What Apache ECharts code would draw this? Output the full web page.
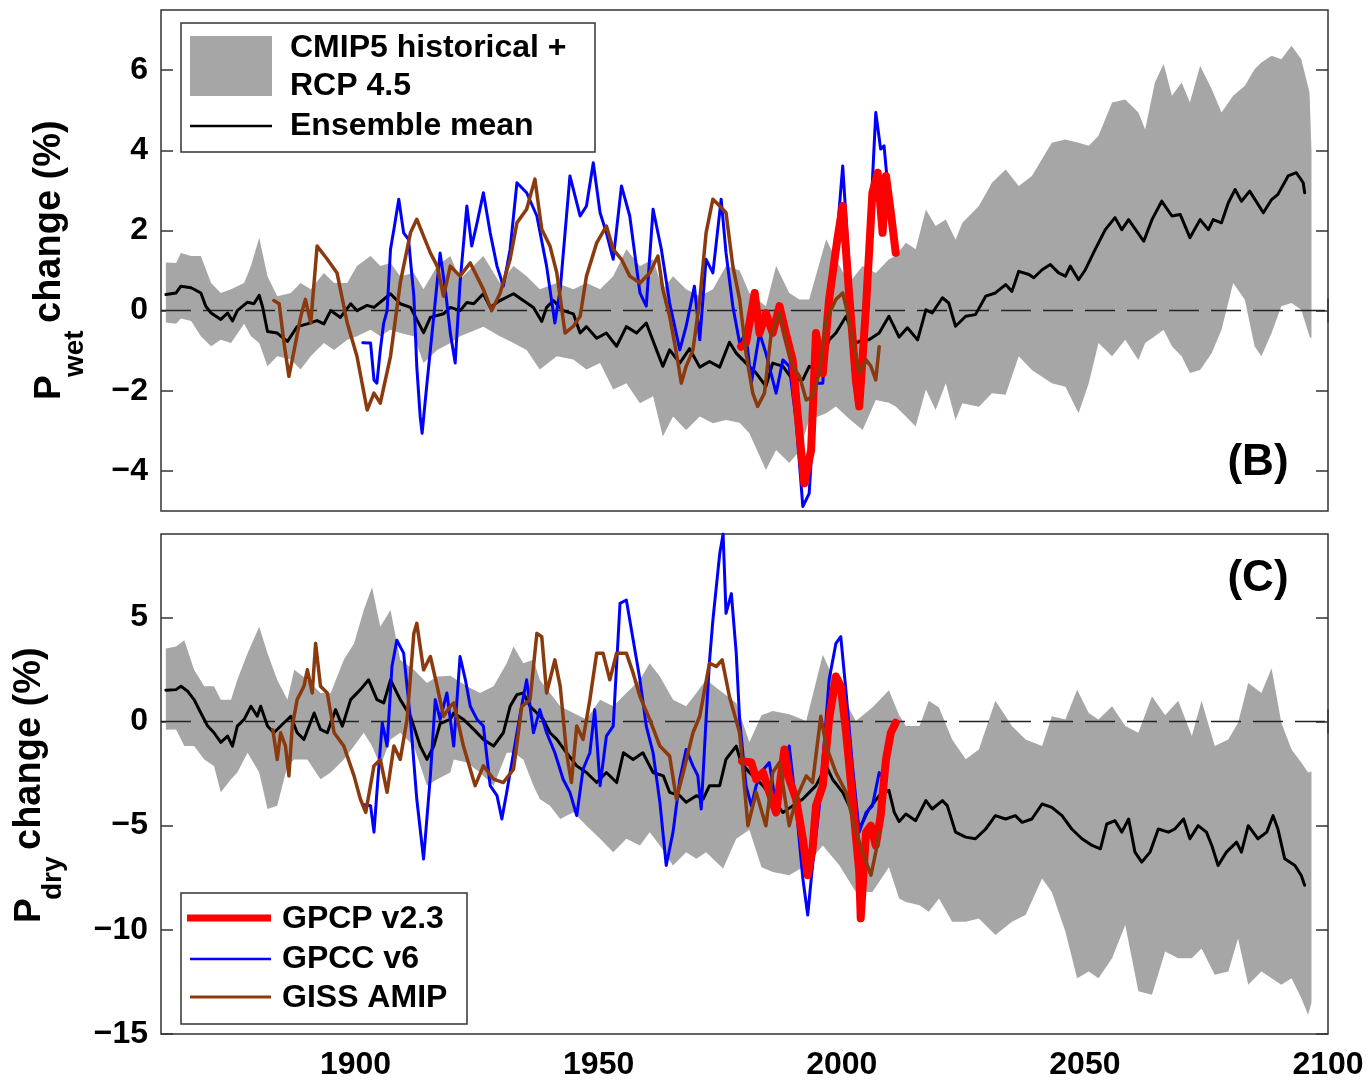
<!DOCTYPE html>
<html>
<head>
<meta charset="utf-8">
<script src="https://cdn.jsdelivr.net/npm/echarts@6/dist/echarts.min.js"></script>
<style>
html,body{margin:0;padding:0;background:#fff;}
#chart{width:1368px;height:1081px;}
</style>
</head>
<body>
<div id="chart"></div>
<script>
// ---------- tick labels ----------
const xTicks = [1900, 1950, 2000, 2050, 2100];
const wetTicks = [-4, -2, 0, 2, 4, 6];
const dryTicks = [-15, -10, -5, 0, 5];
const zeroLine = [[1860, 0], [2100, 0]];

// ---------- panel B : P_wet change (%) ----------
const wetMean = [[1861,0.4],[1863.1,0.44],[1864.1,0.61],[1866.2,0.57],[1868.2,0.44],[1869.2,0.11],[1870.3,-0.06],[1872.3,-0.22],[1873.7,-0.06],[1874.7,-0.26],[1875.7,0.0],[1877.8,0.21],[1879.1,0.17],[1880.2,0.38],[1880.9,0.09],[1881.9,-0.52],[1883.9,-0.56],[1886.0,-0.77],[1888.0,-0.4],[1890.1,-0.33],[1892.1,-0.25],[1893.5,-0.33],[1894.9,0],[1896.9,-0.17],[1899.0,0.17],[1900.3,0],[1902.4,0.13],[1903.8,0.08],[1907.2,0.42],[1909.2,0.17],[1911.3,0.08],[1914.0,-0.55],[1915.4,-0.17],[1918.1,-0.08],[1919.5,0.08],[1921.5,0],[1922.9,0.2],[1924.3,0.17],[1926.3,0.42],[1927.7,0.08],[1929.7,0.25],[1932.5,0.42],[1934.5,0.25],[1936.6,0.08],[1938.3,-0.27],[1939.3,0.08],[1940.7,0.25],[1942.7,0],[1944.8,-0.08],[1946.2,-0.56],[1947.5,-0.4],[1949.6,-0.69],[1951.6,-0.56],[1953.7,-0.89],[1955.7,-0.4],[1957.8,-0.56],[1959.8,-0.31],[1961.9,-0.98],[1963.2,-1.39],[1964.6,-0.98],[1966.7,-1.31],[1968.7,-0.95],[1970.8,-1.41],[1972.8,-1.27],[1974.9,-1.41],[1976.9,-0.79],[1978.3,-1.06],[1980.3,-1.31],[1982.4,-1.56],[1984.4,-1.89],[1985.8,-1.31],[1987.9,-1.39],[1989.9,-1.72],[1992.0,-1.72],[1993.3,-1.39],[1995.4,-1.47],[1997.4,-0.73],[1998.8,-0.56],[2000.9,-0.14],[2002.9,-0.81],[2004.3,-0.73],[2005.6,-0.73],[2007.7,-0.56],[2009.7,-0.14],[2011.8,-0.66],[2013.5,-0.43],[2015.6,-0.73],[2017.3,0.02],[2018.6,-0.06],[2020.7,0.32],[2022.0,0.19],[2023.4,-0.39],[2025.5,-0.14],[2027.5,-0.1],[2029.6,0.36],[2031.6,0.44],[2033.7,0.65],[2035.0,0.48],[2036.4,0.98],[2038.5,0.9],[2039.5,0.82],[2041.2,1.02],[2042.9,1.15],[2044.6,0.94],[2046.0,0.86],[2047.0,1.11],[2048.7,0.77],[2050.1,1.02],[2052.1,1.52],[2054.2,2.02],[2056.2,2.32],[2057.6,2.02],[2059.0,2.27],[2062.1,1.73],[2063.8,2.27],[2065.8,2.73],[2067.9,2.36],[2069.6,2.4],[2071.6,1.82],[2073.7,2.27],[2075.4,2.02],[2076.4,2.27],[2078.1,2.19],[2079.5,2.69],[2080.9,3.02],[2082.2,2.73],[2083.9,2.98],[2086.7,2.44],[2088.4,2.77],[2089.7,2.9],[2091.8,3.36],[2093.5,3.44],[2094.9,3.19],[2095.2,2.94]];
const wetUpper = [[1861,1.2],[1863.1,1.19],[1864.1,1.44],[1866.2,1.36],[1868.2,1.36],[1870.3,0.69],[1872.3,0.44],[1874.4,0.53],[1877.1,0.69],[1878.5,1.11],[1880.2,1.82],[1881.9,0.86],[1883.9,0.36],[1886.7,0.44],[1888.7,0.69],[1890.8,0.53],[1893.5,0.94],[1895.6,0.69],[1898.3,0.69],[1900.3,1.11],[1903.1,1.36],[1905.1,1.11],[1907.2,1.19],[1909.2,0.86],[1912.0,0.94],[1914.0,0.53],[1916.8,1.11],[1919.5,1.36],[1921.5,0.78],[1926.3,1.36],[1929.7,0.69],[1932.5,1.11],[1935.2,0.86],[1937.9,0.53],[1941.4,0.69],[1944.8,0.53],[1947.5,0.69],[1950.3,0.53],[1953.0,0.86],[1955.7,1.53],[1958.5,1.11],[1961.2,1.28],[1963.2,0.53],[1965.3,0.86],[1968.0,0.53],[1970.8,0.36],[1973.5,0.53],[1976.2,1.11],[1979.0,1.0],[1981.0,0.44],[1984.4,0.11],[1986.5,1.11],[1989.2,0.44],[1991.3,0.28],[1993.3,0.28],[1996.8,1.78],[1998.8,1.28],[2001.5,0.69],[2004.3,1.11],[2007.0,0.94],[2009.7,1.28],[2011.1,1.36],[2013.2,1.69],[2015.2,1.53],[2017.3,2.52],[2019.3,2.11],[2021.4,2.27],[2023.4,1.77],[2024.8,2.19],[2028.2,2.61],[2030.9,3.19],[2033.7,3.52],[2036.4,3.11],[2039.1,3.36],[2043.2,4.19],[2046.0,4.27],[2048.7,4.19],[2050.8,4.11],[2052.8,4.36],[2055.6,5.19],[2058.3,5.27],[2061.0,4.94],[2062.4,4.52],[2064.4,5.69],[2066.2,6.15],[2067.9,5.36],[2069.9,5.69],[2071.6,5.19],[2073.7,6.11],[2076.1,5.52],[2078.1,4.94],[2080.5,5.36],[2082.9,5.61],[2084.9,6.02],[2086.3,6.19],[2088.4,6.36],[2090.4,6.27],[2092.5,6.61],[2094.5,6.27],[2096.2,5.44],[2096.6,4.0]];
const wetLower = [[1861,-0.3],[1863.1,-0.33],[1864.1,-0.2],[1866.2,-0.26],[1868.2,-0.64],[1870.3,-0.89],[1872.3,-0.73],[1874.4,-0.81],[1877.1,-0.33],[1878.5,-0.64],[1880.2,-0.81],[1881.9,-1.39],[1883.9,-1.14],[1886.7,-1.22],[1888.7,-1.47],[1890.8,-1.14],[1893.5,-0.81],[1895.6,-0.98],[1898.3,-0.73],[1900.3,-0.64],[1903.1,-0.48],[1905.1,-0.64],[1907.2,-0.48],[1909.2,-0.56],[1912.0,-0.64],[1914.0,-1.31],[1916.8,-0.98],[1919.5,-0.81],[1921.5,-0.64],[1926.3,-0.4],[1929.7,-0.64],[1932.5,-0.81],[1935.2,-0.98],[1937.9,-1.47],[1941.4,-1.14],[1944.8,-1.22],[1947.5,-1.47],[1950.3,-1.31],[1953.0,-1.97],[1955.7,-1.81],[1958.5,-2.31],[1961.2,-2.14],[1963.2,-3.14],[1965.3,-2.64],[1968.0,-2.98],[1970.8,-2.64],[1973.5,-2.81],[1976.2,-2.73],[1979.0,-2.8],[1981.0,-3.06],[1984.4,-3.98],[1986.5,-3.48],[1989.2,-3.8],[1991.3,-3.5],[1993.3,-2.73],[1996.8,-2.56],[1998.8,-2.39],[2001.5,-2.7],[2004.3,-2.98],[2007.0,-2.23],[2009.7,-2.3],[2011.1,-2.39],[2013.2,-2.64],[2015.2,-2.89],[2017.3,-1.97],[2019.3,-2.48],[2021.4,-1.81],[2023.4,-2.73],[2024.8,-2.31],[2028.2,-2.4],[2030.9,-2.06],[2033.7,-2.1],[2036.4,-1.14],[2039.1,-1.48],[2043.2,-1.81],[2046.0,-1.9],[2048.7,-2.56],[2050.8,-1.81],[2052.8,-0.81],[2055.6,-1.14],[2058.3,-0.73],[2061.0,-1.23],[2062.4,-0.81],[2064.4,-0.64],[2066.2,-0.48],[2067.9,-0.89],[2069.9,-1.14],[2071.6,-1.56],[2073.7,-1.48],[2076.1,-1.06],[2078.1,-0.48],[2080.5,0.69],[2082.9,0.27],[2084.9,-0.89],[2086.3,-1.14],[2088.4,-0.56],[2090.4,0.11],[2092.5,0.19],[2094.5,0.02],[2096.2,-0.64],[2096.6,-0.7]];
const wetGPCC = [[1901.5,-0.8],[1903.1,-0.81],[1903.8,-1.73],[1904.4,-1.81],[1905.1,-0.98],[1905.8,-0.31],[1906.5,0],[1907.2,1.53],[1907.9,2.03],[1908.9,2.78],[1909.9,1.94],[1910.9,1.78],[1912.0,0.36],[1912.6,-1.39],[1913.3,-2.64],[1913.7,-3.06],[1914.7,-1.81],[1916.1,-0.14],[1917.4,1.44],[1918.6,0.4],[1919.5,-0.56],[1920.5,-1.31],[1921.5,0.69],[1922.9,2.61],[1923.9,1.61],[1925.0,2.19],[1926.3,2.94],[1927.7,1.94],[1929.1,1.11],[1930.4,0.61],[1931.8,1.53],[1933.2,3.19],[1935.2,2.94],[1937.3,2.36],[1939.3,1.11],[1941.0,-0.31],[1942.1,0.53],[1944.1,3.36],[1946.2,2.36],[1947.5,2.61],[1948.9,3.69],[1950.3,2.44],[1951.6,1.94],[1953.0,1.28],[1954.7,3.11],[1956.4,2.36],[1958.5,0.44],[1959.8,0.11],[1961.2,2.53],[1962.9,1.53],[1964.6,0.19],[1966.7,-0.98],[1968.0,-0.39],[1969.7,0.61],[1970.8,-0.73],[1972.1,1.28],[1973.5,0.94],[1975.2,2.78],[1976.2,1.44],[1977.6,0.11],[1979.0,-0.81],[1980.3,-0.56],[1981.4,-1.81],[1983.1,-0.56],[1984.4,-1.06],[1986.5,-2.06],[1987.9,-1.23],[1989.2,-1.39],[1990.6,-2.73],[1992.0,-4.89],[1993.3,-4.56],[1994.7,-1.81],[1996.1,-1.81],[1997.4,0.61],[1998.8,1.53],[2000.2,3.61],[2001.5,1.11],[2002.9,-1.39],[2003.9,-2.06],[2005.6,1.53],[2007.0,4.94],[2008.0,4.03],[2008.7,4.11],[2009.4,3.19]];
const wetGPCP = [[1979.3,-0.9],[1980.3,-0.81],[1982.1,0.44],[1983.1,-0.56],[1984.4,-0.06],[1985.8,-0.56],[1987.2,0.11],[1988.5,-0.56],[1989.9,-1.23],[1991.3,-3.06],[1992.3,-4.31],[1993.7,-3.48],[1994.7,-0.56],[1996.1,-1.56],[1997.4,0.28],[1999.1,1.78],[2000.2,2.61],[2001.5,0.44],[2002.9,-1.73],[2003.6,-2.39],[2005.0,0.11],[2006.3,2.94],[2007.4,3.44],[2008.4,1.94],[2009.1,3.36],[2010.1,2.44],[2011.1,1.44]];
const wetGISS = [[1883.2,0.25],[1884.3,0.17],[1885.3,-0.81],[1886.3,-1.64],[1887.4,-0.98],[1888.7,-0.17],[1889.7,0.28],[1890.8,-0.31],[1892.1,1.61],[1894.2,1.28],[1896.2,0.94],[1898.3,-0.31],[1900.3,-1.14],[1902.4,-2.48],[1903.8,-2.06],[1905.1,-2.31],[1907.2,-1.14],[1909.2,0.69],[1911.3,1.94],[1912.6,2.28],[1914.0,1.86],[1915.4,1.44],[1916.8,1.11],[1918.1,0.36],[1919.5,1.11],[1921.5,0.86],[1923.6,1.19],[1926.3,0.53],[1928.0,0],[1929.7,0.42],[1931.8,1.28],[1933.2,2.19],[1935.2,2.53],[1936.9,3.28],[1938.3,2.03],[1940.0,1.61],[1941.4,0.94],[1943.1,-0.56],[1944.8,-0.39],[1946.2,-0.14],[1947.5,0.86],[1949.6,1.69],[1951.6,2.11],[1953.0,1.53],[1954.7,1.28],[1956.4,0.86],[1958.5,0.69],[1960.5,0.94],[1962.2,1.36],[1963.2,0.53],[1964.6,-0.14],[1966.0,-1.06],[1967.0,-1.81],[1968.0,-1.39],[1969.4,-0.98],[1970.8,0.27],[1972.1,1.94],[1973.5,2.78],[1974.9,2.61],[1976.2,2.44],[1977.6,1.11],[1979.0,0.28],[1980.3,-1.06],[1981.7,-2.06],[1982.7,-2.39],[1984.1,-2.06],[1985.5,-0.56],[1987.2,-0.06],[1988.5,-0.73],[1989.9,-1.39],[1991.3,-1.64],[1992.7,-2.23],[1994.0,-2.14],[1995.4,-1.56],[1996.8,-0.23],[1998.8,0.28],[2000.2,0.44],[2001.2,-0.06],[2002.2,-0.73],[2003.6,-1.56],[2005.0,-1.23],[2006.0,-1.39],[2007.0,-1.73],[2007.7,-0.9]];

// ---------- panel C : P_dry change (%) ----------
const dryMean = [[1861,1.5],[1863.1,1.53],[1864.1,1.69],[1865.5,1.45],[1866.8,1.05],[1868.2,0.41],[1869.6,-0.22],[1870.9,-0.54],[1872.3,-1.0],[1873.7,-0.7],[1874.7,-1.18],[1875.7,-0.22],[1877.1,0.1],[1878.5,0.73],[1879.8,0.25],[1880.5,0.73],[1881.9,-0.22],[1883.2,-0.54],[1885.3,-0.06],[1886.7,0.25],[1888.0,-0.54],[1889.4,-0.86],[1891.5,0.41],[1892.8,-0.38],[1894.2,-0.54],[1895.9,0.57],[1897.3,-0.22],[1899.0,1.05],[1901.0,1.53],[1902.7,2.0],[1904.4,1.05],[1905.8,0.89],[1907.2,2.0],[1909.2,1.05],[1911.3,0.25],[1913.3,-1.18],[1914.7,-1.82],[1916.1,-1.18],[1917.4,-0.1],[1919.5,0.1],[1920.2,0.41],[1922.2,0.1],[1924.3,-0.38],[1926.3,-0.86],[1928.4,-1.18],[1930.4,-0.54],[1931.8,0.73],[1933.2,1.29],[1934.5,1.37],[1935.9,0.73],[1937.3,0.41],[1938.6,0.1],[1940.0,-0.54],[1941.4,-0.86],[1943.4,-1.5],[1945.5,-2.13],[1947.5,-2.45],[1949.6,-2.93],[1951.6,-2.45],[1953.7,-2.93],[1955.1,-1.5],[1957.1,-1.82],[1959.1,-1.5],[1961.2,-2.45],[1963.3,-2.61],[1964.6,-3.4],[1966.7,-3.56],[1968.0,-3.88],[1970.1,-3.56],[1971.5,-3.72],[1972.8,-3.08],[1974.9,-3.08],[1976.2,-1.81],[1978.3,-1.18],[1979.3,-1.97],[1981.0,-2.45],[1983.8,-3.08],[1985.8,-3.72],[1987.9,-4.37],[1989.9,-4.05],[1992.0,-3.72],[1994.7,-3.08],[1996.8,-2.13],[1998.1,-2.77],[2000.2,-3.4],[2002.2,-4.37],[2003.6,-5.16],[2005.6,-4.21],[2007.7,-3.56],[2009.7,-3.3],[2010.8,-4.36],[2011.8,-4.8],[2013.2,-4.44],[2015.2,-4.76],[2017.3,-3.8],[2018.6,-4.2],[2020.7,-3.8],[2021.7,-4.04],[2023.4,-5.31],[2025.5,-5.55],[2027.5,-5.63],[2029.6,-5.16],[2031.6,-4.52],[2033.7,-4.68],[2035.7,-4.52],[2037.1,-4.84],[2039.1,-4.68],[2041.2,-3.96],[2043.2,-4.12],[2045.3,-4.52],[2047.3,-5.16],[2049.4,-5.63],[2051.5,-5.95],[2053.2,-6.11],[2054.5,-4.92],[2056.2,-4.76],[2057.6,-5.31],[2059.0,-4.68],[2060.3,-6.27],[2061.7,-6.75],[2063.4,-6.27],[2065.1,-5.16],[2067.2,-5.31],[2068.5,-5.16],[2070.3,-4.68],[2071.6,-5.63],[2073.3,-5.0],[2075.0,-5.31],[2076.1,-5.95],[2077.4,-6.91],[2079.1,-6.27],[2081.2,-5.79],[2082.2,-6.27],[2083.6,-5.0],[2085.6,-5.63],[2087.4,-5.31],[2088.7,-4.52],[2089.7,-5.16],[2091.1,-6.59],[2093.2,-6.91],[2094.5,-7.39],[2095.2,-7.86]];
const dryUpper = [[1861,3.5],[1863.1,3.6],[1864.8,3.9],[1866.8,2.48],[1868.9,1.69],[1870.9,1.69],[1872.3,1.05],[1874.4,1.05],[1875.7,2.0],[1877.8,3.28],[1880.2,4.55],[1881.9,3.28],[1883.9,2.0],[1886.0,1.05],[1887.4,2.48],[1890.1,2.0],[1892.8,1.37],[1894.9,1.37],[1897.6,2.96],[1899.7,3.75],[1901.7,5.35],[1903.4,6.45],[1905.1,4.55],[1907.2,5.35],[1909.2,2.96],[1912.0,2.48],[1914.7,1.85],[1916.8,2.16],[1919.5,2.2],[1922.9,1.69],[1925.6,1.37],[1928.4,1.69],[1931.1,2.8],[1932.5,3.6],[1934.5,2.8],[1936.6,2.96],[1937.9,2.0],[1940.0,1.37],[1942.1,0.73],[1944.8,0.41],[1947.5,0.1],[1950.3,1.05],[1953.0,0.73],[1955.7,1.37],[1958.5,2.0],[1960.5,2.8],[1962.6,2.16],[1965.3,1.05],[1968.0,0.73],[1970.1,1.37],[1972.1,2.0],[1975.6,1.37],[1978.3,0.89],[1981.0,-1.0],[1983.5,0.3],[1985.8,0.51],[1989.2,0.35],[1992.7,0.03],[1996.1,3.2],[1999.5,1.46],[2002.9,0.03],[2006.3,0.67],[2009.7,1.5],[2011.8,0.3],[2013.2,-0.22],[2016.0,-0.22],[2017.9,1.0],[2020.0,0.67],[2022.7,-0.86],[2025.5,-1.81],[2028.2,-1.34],[2031.6,1.0],[2035.0,-0.22],[2037.8,-0.86],[2041.2,-1.18],[2043.2,0.25],[2046.0,0.1],[2048.4,1.53],[2050.8,0.41],[2052.8,0.1],[2055.6,0.73],[2058.3,-0.22],[2061.0,-0.54],[2063.8,1.21],[2066.5,0.3],[2069.2,1.0],[2072.0,-0.7],[2074.0,1.0],[2076.7,-1.18],[2079.5,-0.86],[2081.5,-0.06],[2083.6,1.85],[2086.3,1.37],[2088.4,2.56],[2090.4,-0.06],[2092.5,-1.34],[2094.5,-1.97],[2095.9,-2.45],[2096.6,-2.4]];
const dryLower = [[1861,-0.4],[1863.1,-0.38],[1864.8,-1.18],[1866.8,-1.18],[1868.9,-1.82],[1870.9,-2.13],[1872.3,-3.4],[1874.4,-2.77],[1875.7,-2.45],[1877.8,-1.5],[1880.2,-2.45],[1881.9,-4.2],[1883.9,-4.04],[1886.0,-2.13],[1887.4,-1.82],[1890.1,-1.82],[1892.8,-2.77],[1894.9,-2.45],[1897.6,-1.82],[1899.7,-1.18],[1901.7,-0.54],[1903.4,-1.18],[1905.1,-2.13],[1907.2,-0.86],[1909.2,-0.54],[1912.0,-1.18],[1914.7,-3.08],[1916.8,-2.77],[1919.5,-2.45],[1920.2,-1.82],[1922.9,-1.97],[1925.6,-2.45],[1928.4,-3.08],[1931.1,-1.5],[1932.5,-1.5],[1934.5,-1.82],[1936.6,-3.08],[1937.9,-3.72],[1940.0,-4.04],[1942.1,-4.68],[1944.8,-4.36],[1947.5,-5.0],[1950.3,-5.63],[1953.0,-6.27],[1955.7,-5.63],[1958.5,-5.95],[1960.5,-5.31],[1962.6,-5.95],[1965.3,-6.91],[1968.0,-6.27],[1970.1,-6.59],[1972.1,-6.27],[1975.6,-7.06],[1978.3,-5.63],[1981.0,-5.2],[1983.5,-7.0],[1985.8,-7.22],[1989.2,-7.38],[1992.7,-6.9],[1996.1,-5.95],[1999.5,-6.9],[2002.9,-8.18],[2006.3,-8.18],[2009.7,-7.0],[2011.8,-8.5],[2013.2,-8.66],[2016.0,-8.82],[2017.9,-9.13],[2020.0,-8.5],[2022.7,-9.61],[2025.5,-9.61],[2028.2,-9.45],[2031.6,-10.25],[2035.0,-9.61],[2037.8,-9.29],[2041.2,-7.54],[2043.2,-8.18],[2046.0,-10.09],[2048.4,-12.32],[2050.8,-12.0],[2052.8,-12.32],[2055.6,-11.36],[2058.3,-9.77],[2061.0,-12.95],[2063.8,-13.11],[2066.5,-11.04],[2069.2,-11.36],[2072.0,-11.36],[2074.0,-10.9],[2076.7,-12.16],[2079.5,-12.0],[2081.5,-10.41],[2083.6,-12.64],[2086.3,-12.0],[2088.4,-12.32],[2090.4,-12.64],[2092.5,-12.32],[2094.5,-13.27],[2095.9,-14.07],[2096.6,-13.5]];
const dryGPCC = [[1901.8,-4.0],[1903.1,-4.04],[1903.8,-5.31],[1904.4,-3.4],[1905.5,-0.06],[1906.5,-1.18],[1907.5,2.64],[1908.5,3.9],[1909.9,3.28],[1911.3,0.1],[1912.6,-3.72],[1914.0,-6.6],[1915.4,-2.61],[1916.4,1.05],[1917.4,0.1],[1918.8,1.37],[1920.2,-1.18],[1921.5,3.12],[1922.6,2.0],[1923.6,0.73],[1925.0,0.1],[1926.3,-0.22],[1927.7,-3.08],[1929.1,-3.56],[1930.1,-4.68],[1931.1,-3.4],[1932.5,-1.5],[1933.9,0.41],[1935.2,2.0],[1936.6,-0.54],[1937.9,0.57],[1939.3,-0.54],[1941.0,-1.5],[1942.7,-2.77],[1944.1,-3.4],[1945.5,-4.52],[1946.8,-2.29],[1948.2,-1.5],[1949.2,0.57],[1950.3,-3.08],[1951.6,-0.7],[1953.0,-0.22],[1954.4,5.67],[1955.7,5.83],[1957.1,3.92],[1958.5,2.0],[1959.8,-0.22],[1961.2,-1.5],[1962.6,-3.88],[1963.9,-6.91],[1965.3,-5.31],[1966.7,-2.77],[1968.0,-1.34],[1969.4,-2.13],[1970.4,-2.6],[1971.1,-4.2],[1972.1,0.1],[1972.8,2.9],[1973.5,4.87],[1974.9,8.05],[1975.6,9.0],[1976.2,5.19],[1977.3,6.14],[1978.3,3.28],[1979.0,0.1],[1980.3,-3.08],[1981.4,-4.05],[1982.4,-3.08],[1983.4,-2.45],[1985.1,-1.97],[1986.5,-4.05],[1987.9,-2.45],[1989.2,-1.18],[1990.6,-4.05],[1992.0,-7.54],[1993.0,-9.29],[1994.0,-6.9],[1995.4,-4.05],[1997.4,2.0],[1998.8,3.75],[1999.8,4.07],[2000.9,1.37],[2002.2,-2.13],[2003.6,-5.31],[2005.0,-4.37],[2006.3,-4.05],[2007.7,-2.45],[2008.7,-2.77]];
const dryGPCP = [[1979.5,-1.9],[1981.4,-1.97],[1982.4,-2.77],[1983.8,-2.45],[1985.1,-3.4],[1986.5,-4.37],[1988.2,-1.34],[1989.2,-2.77],[1990.6,-3.72],[1992.0,-5.63],[1993.0,-7.38],[1994.0,-6.11],[1994.7,-4.05],[1996.1,-3.08],[1997.4,0.1],[1998.8,2.16],[1999.8,1.69],[2000.9,-0.54],[2002.2,-3.72],[2003.6,-7.22],[2003.9,-9.45],[2005.0,-5.31],[2006.0,-5.0],[2007.0,-5.95],[2008.0,-4.53],[2009.1,-1.81],[2010.1,-0.54],[2011.1,-0.06]];
const dryGISS = [[1883.0,-0.4],[1883.9,-1.82],[1884.6,-0.54],[1885.6,-1.18],[1886.3,-2.61],[1887.0,-0.22],[1888.0,1.05],[1889.4,1.69],[1890.1,2.48],[1891.1,1.37],[1891.8,3.75],[1892.8,1.69],[1894.2,1.37],[1895.6,-0.54],[1897.6,-1.18],[1899.7,-2.61],[1901.0,-3.72],[1902.1,-4.36],[1903.8,-2.13],[1905.1,-1.82],[1906.5,-3.4],[1907.9,-1.18],[1909.2,-1.82],[1910.6,0.1],[1912.0,4.23],[1912.6,4.71],[1914.0,2.48],[1915.4,3.12],[1916.8,1.69],[1918.1,0.25],[1919.5,0.73],[1920.2,0.89],[1922.2,-1.18],[1924.6,-3.08],[1926.3,-2.13],[1928.4,-2.77],[1930.4,-2.93],[1932.5,-2.29],[1934.2,0.73],[1935.9,1.05],[1937.3,4.23],[1938.3,4.07],[1939.3,1.37],[1941.0,2.96],[1942.1,1.69],[1943.4,-1.5],[1944.4,-2.93],[1945.5,-0.22],[1946.8,-0.86],[1948.2,1.05],[1949.6,3.28],[1950.9,3.28],[1952.3,2.0],[1953.7,3.28],[1955.7,3.28],[1957.1,2.32],[1958.5,1.2],[1960.5,0.1],[1962.6,-1.18],[1964.6,-1.66],[1966.0,-3.72],[1967.4,-2.45],[1969.4,-0.54],[1970.8,0.25],[1972.8,2.8],[1974.2,2.64],[1975.4,2.96],[1976.9,1.2],[1979.0,-0.54],[1980.7,-5.0],[1982.4,-3.4],[1984.4,-5.0],[1985.8,-2.45],[1987.2,-1.97],[1989.2,-5.0],[1990.6,-3.72],[1992.7,-2.61],[1994.0,-2.93],[1995.7,0.25],[1996.8,-1.18],[1998.8,-2.45],[2000.9,-3.4],[2002.9,-5.31],[2004.3,-6.27],[2006.0,-7.38],[2007.0,-6.27],[2007.7,-5.31]];

// ---------- styling ----------
const FONT = 'Liberation Sans, Arial, Helvetica, sans-serif';
const GRAY = '#a6a6a6';
const C_RED = '#ff0000', C_BLUE = '#0000ff', C_BROWN = '#8b3a0e', C_BLACK = '#000000';
const FRAME = '#333333';
const minusFmt = v => (v < 0 ? '\u2212' + Math.abs(v) : String(v));
const plainFmt = v => String(v);

function xAxisDef(grid, pos, labels) {
  return {
    type: 'value', gridIndex: grid, position: pos, min: 1860, max: 2100,
    axisLine: { show: false },
    axisTick: { show: true, inside: true, length: 12, customValues: xTicks, lineStyle: { color: FRAME, width: 1.5 } },
    axisLabel: labels ? { show: true, customValues: xTicks, formatter: plainFmt, margin: 15, color: '#000', fontFamily: FONT, fontWeight: 'bold', fontSize: 32 } : { show: false },
    splitLine: { show: false }
  };
}
function yAxisDef(grid, pos, min, max, ticks, labels) {
  return {
    type: 'value', gridIndex: grid, position: pos, min: min, max: max,
    axisLine: { show: false },
    axisTick: { show: true, inside: true, length: 12, customValues: ticks, lineStyle: { color: FRAME, width: 1.5 } },
    axisLabel: labels ? { show: true, customValues: ticks, margin: 13, formatter: minusFmt, color: '#000', fontFamily: FONT, fontWeight: 'bold', fontSize: 32 } : { show: false },
    splitLine: { show: false }
  };
}
function bandSeries(upper, lower, xi, yi) {
  return {
    type: 'custom', xAxisIndex: xi, yAxisIndex: yi, silent: true, z: 1,
    data: [upper[0]],
    renderItem: function (params, api) {
      const pts = upper.map(p => api.coord(p)).concat(lower.slice().reverse().map(p => api.coord(p)));
      return { type: 'polygon', shape: { points: pts }, style: { fill: GRAY, stroke: null } };
    }
  };
}
function lineSeries(name, data, color, width, xi, yi, z, dash) {
  return {
    name: name, type: 'line', data: data, xAxisIndex: xi, yAxisIndex: yi, z: z,
    showSymbol: false, symbol: 'none', silent: true, clip: true,
    lineStyle: { color: color, width: width, join: 'round', cap: dash ? 'butt' : 'round', type: dash || 'solid' }
  };
}

const chart = echarts.init(document.getElementById('chart'), null, { renderer: 'canvas' });
const txt = (text, x, y, size, align) => ({
  type: 'text', x: x, y: y, z: 100,
  style: { text: text, fill: '#000', font: 'bold ' + size + 'px ' + FONT, textAlign: align || 'left', textVerticalAlign: 'middle' }
});
const rotTxt = (text, x, y, size) => ({
  type: 'text', x: x, y: y, rotation: Math.PI / 2, z: 100,
  style: { text: text, fill: '#000', font: 'bold ' + size + 'px ' + FONT, textAlign: 'left', textVerticalAlign: 'middle' }
});

chart.setOption({
  animation: false,
  backgroundColor: '#ffffff',
  grid: [
    { left: 161, top: 10, width: 1167, height: 501, show: true, borderColor: FRAME, borderWidth: 1.5, backgroundColor: 'transparent' },
    { left: 161, top: 534, width: 1167, height: 502, show: true, borderColor: FRAME, borderWidth: 1.5, backgroundColor: 'transparent' }
  ],
  xAxis: [
    xAxisDef(0, 'bottom', false), xAxisDef(0, 'top', false),
    xAxisDef(1, 'bottom', true), xAxisDef(1, 'top', false)
  ],
  yAxis: [
    yAxisDef(0, 'left', -5, 7.5, wetTicks, true), yAxisDef(0, 'right', -5, 7.5, wetTicks, false),
    yAxisDef(1, 'left', -15, 9, dryTicks, true), yAxisDef(1, 'right', -15, 9, dryTicks, false)
  ],
  series: [
    bandSeries(wetUpper, wetLower, 0, 0),
    lineSeries('zeroB', zeroLine, '#222', 1.5, 0, 0, 2, [30, 12]),
    lineSeries('Ensemble mean B', wetMean, C_BLACK, 3, 0, 0, 3),
    lineSeries('GPCC v6 B', wetGPCC, C_BLUE, 3, 0, 0, 4),
    lineSeries('GPCP v2.3 B', wetGPCP, C_RED, 8, 0, 0, 5),
    lineSeries('GISS AMIP B', wetGISS, C_BROWN, 3.5, 0, 0, 6),

    bandSeries(dryUpper, dryLower, 2, 2),
    lineSeries('zeroC', zeroLine, '#222', 1.5, 2, 2, 2, [30, 12]),
    lineSeries('Ensemble mean C', dryMean, C_BLACK, 3, 2, 2, 3),
    lineSeries('GPCC v6 C', dryGPCC, C_BLUE, 3, 2, 2, 4),
    lineSeries('GPCP v2.3 C', dryGPCP, C_RED, 8, 2, 2, 5),
    lineSeries('GISS AMIP C', dryGISS, C_BROWN, 3.5, 2, 2, 6)
  ],
  graphic: [
    // legend, panel B
    { type: 'rect', z: 99, shape: { x: 181, y: 23, width: 414, height: 129 }, style: { fill: '#fff', stroke: FRAME, lineWidth: 1.5 } },
    { type: 'rect', z: 100, shape: { x: 190, y: 36, width: 82, height: 60 }, style: { fill: GRAY } },
    { type: 'line', z: 100, shape: { x1: 190, y1: 126, x2: 272, y2: 126 }, style: { stroke: C_BLACK, lineWidth: 2.5 } },
    txt('CMIP5 historical +', 290, 48, 32),
    txt('RCP 4.5', 290, 86, 32),
    txt('Ensemble mean', 290, 126, 32),
    // legend, panel C
    { type: 'rect', z: 99, shape: { x: 181, y: 893, width: 286, height: 131 }, style: { fill: '#fff', stroke: FRAME, lineWidth: 1.5 } },
    { type: 'line', z: 100, shape: { x1: 187, y1: 918, x2: 271, y2: 918 }, style: { stroke: C_RED, lineWidth: 7 } },
    { type: 'line', z: 100, shape: { x1: 190, y1: 959, x2: 271, y2: 959 }, style: { stroke: C_BLUE, lineWidth: 2.5 } },
    { type: 'line', z: 100, shape: { x1: 190, y1: 997, x2: 271, y2: 997 }, style: { stroke: C_BROWN, lineWidth: 3 } },
    txt('GPCP v2.3', 282, 919, 32),
    txt('GPCC v6', 282, 959, 32),
    txt('GISS AMIP', 282, 998, 32),
    // panel labels
    txt('(B)', 1258, 463, 44, 'center'),
    txt('(C)', 1258, 579, 44, 'center'),
    // y-axis titles
    rotTxt('P', 50, 400, 37),
    rotTxt('wet', 75, 377, 28),
    rotTxt('change (%)', 50, 323, 38),
    rotTxt('P', 30, 923, 37),
    rotTxt('dry', 53, 900, 28),
    rotTxt('change (%)', 30, 850, 38)
  ]
});
</script>
</body>
</html>
